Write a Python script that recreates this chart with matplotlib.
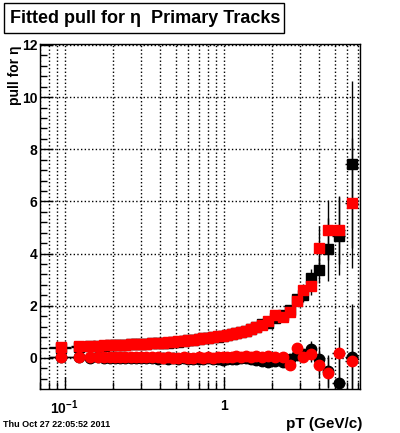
import matplotlib
matplotlib.use('Agg')
import matplotlib.pyplot as plt
import matplotlib.patches as patches
import numpy as np
from matplotlib.ticker import MultipleLocator, LogLocator, FixedLocator, NullFormatter

# pT bin edges (GeV/c)
pt_edges = [0.08, 0.11, 0.135, 0.155, 0.17, 0.185, 0.2, 0.215, 0.23, 0.25,
            0.27, 0.29, 0.31, 0.34, 0.37, 0.40, 0.43, 0.46, 0.50, 0.54,
            0.58, 0.62, 0.67, 0.72, 0.77, 0.83, 0.89, 0.95, 1.02, 1.09,
            1.16, 1.24, 1.33, 1.43, 1.54, 1.66, 1.80, 1.98, 2.24, 2.48,
            2.76, 3.0, 3.28, 3.76, 4.2, 4.8, 5.8, 7.0]

# fitted sigma of the pull (squares)
sigma_black = [0.38, 0.42, 0.44, 0.46, 0.47, 0.49, 0.48, 0.50, 0.50, 0.52,
               0.52, 0.54, 0.54, 0.56, 0.57, 0.59, 0.59, 0.62, 0.63, 0.66,
               0.67, 0.70, 0.71, 0.75, 0.77, 0.80, 0.82, 0.86, 0.88, 0.92,
               0.94, 1.00, 1.04, 1.12, 1.18, 1.30, 1.34, 1.55, 1.65, 1.84,
               2.26, 2.41, 3.05, 3.37, 4.16, 4.69, 7.43]
sigma_red = [0.42, 0.45, 0.45, 0.47, 0.48, 0.48, 0.49, 0.50, 0.51, 0.52,
             0.53, 0.54, 0.55, 0.56, 0.58, 0.59, 0.60, 0.62, 0.64, 0.66,
             0.68, 0.70, 0.72, 0.75, 0.78, 0.80, 0.83, 0.86, 0.89, 0.92,
             0.95, 1.00, 1.05, 1.12, 1.20, 1.26, 1.42, 1.65, 1.58, 1.77,
             2.20, 2.60, 2.76, 4.20, 4.90, 4.90, 5.95]
sigma_err_black = [0.01]*28 + [0.02, 0.02, 0.02, 0.03, 0.03, 0.03, 0.04, 0.05,
                               0.06, 0.08, 0.10, 0.12, 0.18, 0.25, 0.35, 0.5,
                               1.2, 1.5, 3.2]
sigma_err_red = [0.01]*28 + [0.02, 0.02, 0.02, 0.03, 0.03, 0.03, 0.04, 0.05,
                             0.06, 0.08, 0.10, 0.12, 0.18, 0.25, 0.35, 0.85,
                             1.15, 1.3, 2.5]

# fitted mean of the pull (circles)
mean_black = [0.03, 0.02, 0.01, 0.02, 0.00, 0.01, -0.01, 0.00, -0.02, -0.01,
              -0.02, 0.00, -0.01, -0.02, -0.03, -0.02, -0.03, -0.01, -0.03, -0.02,
              -0.04, -0.03, -0.05, -0.04, -0.02, -0.05, -0.03, -0.06, -0.04, -0.03,
              -0.05, -0.02, 0.00, -0.04, -0.08, -0.12, -0.14, -0.10, -0.14, -0.05,
              0.10, 0.15, 0.34, -0.04, -0.50, -0.95, 0.05]
mean_red = [0.02, 0.03, 0.03, 0.04, 0.05, 0.04, 0.03, 0.05, 0.04, 0.03,
            0.04, 0.02, 0.03, 0.02, 0.03, 0.01, 0.02, 0.00, 0.01, 0.02,
            0.00, 0.01, 0.02, 0.00, 0.03, 0.01, 0.04, 0.02, 0.05, 0.03,
            0.06, 0.04, 0.08, 0.05, 0.06, 0.04, 0.07, 0.05, 0.02, -0.27,
            0.37, 0.05, 0.15, -0.27, -0.56, 0.18, -0.10]
mean_err = [0.01]*28 + [0.02, 0.02, 0.02, 0.02, 0.03, 0.03, 0.03, 0.04,
                        0.05, 0.06, 0.08, 0.10, 0.12, 0.18, 0.30, 0.50,
                        0.60, 1.0, 2.0]

pt = [(a + b) / 2 for a, b in zip(pt_edges[:-1], pt_edges[1:])]
pt_err = [(b - a) / 2 for a, b in zip(pt_edges[:-1], pt_edges[1:])]

plt.rcParams['font.family'] = ['Liberation Sans', 'DejaVu Sans']
plt.rcParams['font.weight'] = 'bold'
plt.rcParams['mathtext.fontset'] = 'custom'
plt.rcParams['mathtext.rm'] = 'Liberation Sans:bold'
plt.rcParams['mathtext.bf'] = 'Liberation Sans:bold'

fig = plt.figure(figsize=(4, 4.33), dpi=100)
ax = fig.add_axes([0.1, 0.1016, 0.8, 0.797])

common = dict(ls='none', ecolor='k', elinewidth=1, capsize=0, ms=7.5)
ax.errorbar(pt, sigma_black, yerr=sigma_err_black, xerr=pt_err, fmt='s',
            mfc='k', mec='k', zorder=3, **common)
ax.errorbar(pt, mean_black, yerr=mean_err, xerr=pt_err, fmt='o',
            mfc='k', mec='k', zorder=3, **common)
ax.errorbar(pt, sigma_red, yerr=sigma_err_red, xerr=pt_err, fmt='s',
            mfc='red', mec='red', zorder=4, **common)
ax.errorbar(pt, mean_red, yerr=mean_err, xerr=pt_err, fmt='o',
            mfc='red', mec='red', zorder=4, **common)

ax.set_xscale('log')
ax.set_xlim(0.07, 7.2)
ax.set_ylim(-1.19, 12.04)

ax.xaxis.set_major_locator(FixedLocator([0.1, 1]))
ax.set_xticklabels([r'$\mathbf{10^{-1}}$', '1'])
ax.xaxis.set_minor_locator(LogLocator(base=10, subs=np.arange(2, 10)))
ax.xaxis.set_minor_formatter(NullFormatter())
ax.yaxis.set_major_locator(MultipleLocator(2))
ax.yaxis.set_minor_locator(MultipleLocator(0.4))

ax.tick_params(which='both', direction='in', top=False, right=False, width=1)
ax.tick_params(which='major', length=9)
ax.tick_params(which='minor', length=5)
ax.tick_params(axis='y', labelsize=10, pad=2)
ax.tick_params(axis='x', labelsize=10, pad=7)
for lab in ax.get_xticklabels() + ax.get_yticklabels():
    lab.set_fontweight('bold')

ax.grid(True, which='both', axis='x', ls=':', color='k', lw=1)
ax.grid(True, which='major', axis='y', ls=':', color='k', lw=1)
ax.set_axisbelow(True)
for s in ax.spines.values():
    s.set_linewidth(1)

# title box
fig.add_artist(patches.Rectangle((0.01, 0.9238), 0.7, 0.0693, transform=fig.transFigure,
                                 fc='white', ec='k', lw=1))
fig.text(0.362, 0.9584, 'Fitted pull for \u03b7  Primary Tracks', ha='center', va='center',
         fontsize=13, fontweight='bold')

fig.text(0.038, 0.896, 'pull for \u03b7', rotation=90, ha='center', va='top',
         fontsize=10, fontweight='bold')
fig.text(0.905, 0.0208, 'pT (GeV/c)', ha='right', va='center', fontsize=11, fontweight='bold')
fig.text(0.008, 0.0185, 'Thu Oct 27 22:05:52 2011', ha='left', va='center', fontsize=6.5,
         fontweight='bold')

fig.savefig('out.png', dpi=100)
